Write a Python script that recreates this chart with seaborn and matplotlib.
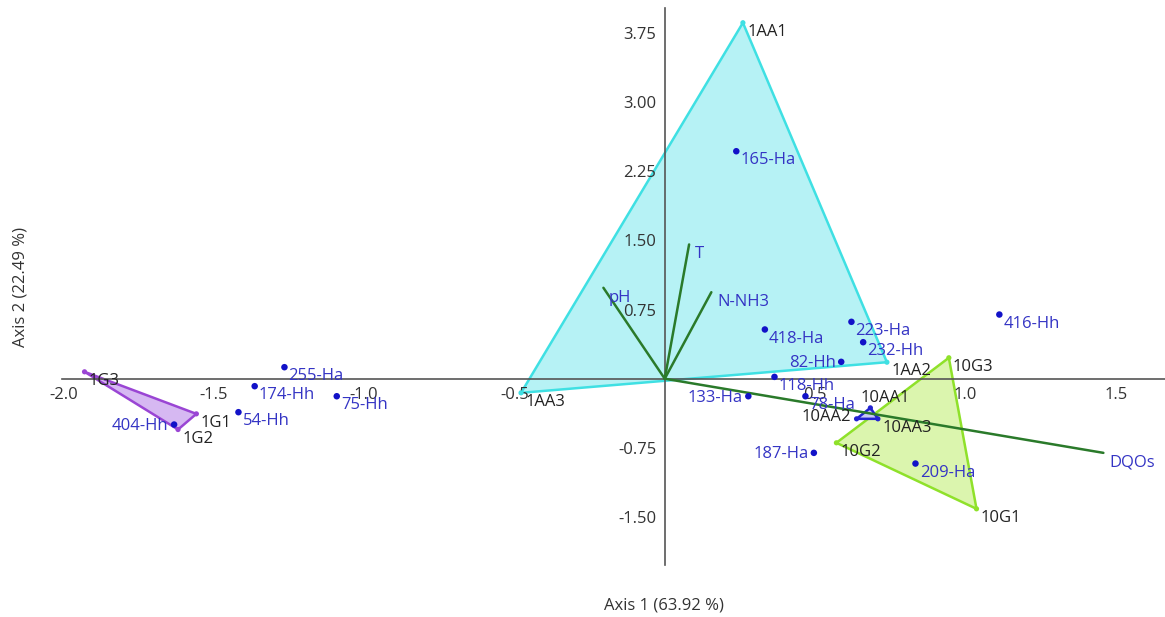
import numpy as np
import pandas as pd
import matplotlib
matplotlib.use("Agg")
import matplotlib.pyplot as plt
import seaborn as sns

# Sample scores (axis 1, axis 2)
sample_names = ["165-Ha", "418-Ha", "223-Ha", "232-Hh", "82-Hh", "118-Hh", "133-Ha",
                "78-Ha", "187-Ha", "209-Ha", "416-Hh", "255-Ha", "174-Hh", "54-Hh",
                "75-Hh", "404-Hh"]
sample_x = [0.238, 0.333, 0.621, 0.660, 0.587, 0.365, 0.278, 0.468, 0.496, 0.834,
            1.113, -1.265, -1.364, -1.418, -1.091, -1.632]
sample_y = [2.467, 0.534, 0.617, 0.396, 0.183, 0.020, -0.190, -0.190, -0.804, -0.920,
            0.696, 0.125, -0.081, -0.363, -0.190, -0.497]
# labels written to the left of their point
left_labels = ["187-Ha", "404-Hh", "133-Ha", "82-Hh"]

# Group hull vertices
grp_aa_names = ["1AA1", "1AA2", "1AA3"]
grp_aa_x = [0.260, 0.739, -0.478]
grp_aa_y = [3.860, 0.179, -0.153]

grp_g_names = ["1G1", "1G2", "1G3"]
grp_g_x = [-1.558, -1.619, -1.930]
grp_g_y = [-0.381, -0.551, 0.075]

grp_10g_names = ["10G1", "10G2", "10G3"]
grp_10g_x = [1.037, 0.571, 0.945]
grp_10g_y = [-1.411, -0.695, 0.227]

grp_10aa_names = ["10AA1", "10AA2", "10AA3"]
grp_10aa_x = [0.684, 0.638, 0.709]
grp_10aa_y = [-0.316, -0.435, -0.435]

# Environmental variable vectors
var_names = ["T", "pH", "N-NH3", "DQOs"]
var_x = [0.081, -0.204, 0.155, 1.459]
var_y = [1.456, 0.986, 0.938, -0.804]

x_ticks = [-2.0, -1.5, -1.0, -0.5, 0.5, 1.0, 1.5]
y_ticks = [-1.50, -0.75, 0.75, 1.50, 2.25, 3.00, 3.75]

sns.set_theme(style="white")
plt.rcParams["font.family"] = ["Open Sans", "DejaVu Sans"]

fig = plt.figure(figsize=(11.65, 6.17), dpi=100)
ax = fig.add_axes([0.0532, 0.0843, 0.9468, 0.9027])
ax.set_xlim(-2.005, 1.664)
ax.set_ylim(-2.02, 4.02)
ax.set_axisbelow(False)

label_blue = "#3434c4"
point_blue = "#1212c8"
dark = "#222222"
fs = 12

groups = [
    (grp_aa_names, grp_aa_x, grp_aa_y, "#b6f2f5", "#3fe0e3"),
    (grp_g_names, grp_g_x, grp_g_y, "#d6b8f2", "#9a45d4"),
    (grp_10g_names, grp_10g_x, grp_10g_y, "#dbf5ae", "#8fe12a"),
    (grp_10aa_names, grp_10aa_x, grp_10aa_y, "#c8c8f5", "#2222d0"),
]
for names, gx, gy, fc, ec in groups:
    ax.fill(gx, gy, facecolor=fc, edgecolor=ec, linewidth=1.8, zorder=1)
    sns.scatterplot(x=gx, y=gy, color=ec, s=14, edgecolor="none", ax=ax, zorder=3)

# Axes through the origin
for side in ["top", "right"]:
    ax.spines[side].set_visible(False)
ax.spines["left"].set_position("zero")
ax.spines["bottom"].set_position("zero")
for side in ["left", "bottom"]:
    ax.spines[side].set_color("#555555")
    ax.spines[side].set_linewidth(1.2)
    ax.spines[side].set_zorder(2)
ax.set_xticks(x_ticks)
ax.set_xticklabels([f"{v:.1f}" for v in x_ticks])
ax.set_yticks(y_ticks)
ax.set_yticklabels([f"{v:.2f}" for v in y_ticks])
ax.tick_params(axis="both", direction="out", length=4, width=1, color="#555555",
               labelsize=fs, labelcolor="#333333", pad=2)
ax.grid(False)

# Variable vectors
for vx, vy, vn in zip(var_x, var_y, var_names):
    sns.lineplot(x=[0, vx], y=[vy * 0, vy], color="#2a7a2a", linewidth=1.8,
                 ax=ax, zorder=4, sort=False, estimator=None)
    ax.annotate(vn, (vx, vy), xytext=(4, -7), textcoords="offset points",
                ha="left", va="center", color=label_blue, fontsize=fs, zorder=6)

# Sample points
df = pd.DataFrame({"x": sample_x, "y": sample_y, "name": sample_names})
sns.scatterplot(data=df, x="x", y="y", color=point_blue, s=22, edgecolor="none",
                ax=ax, zorder=5)
for sx, sy, sn in zip(sample_x, sample_y, sample_names):
    if sn in left_labels:
        ax.annotate(sn, (sx, sy), xytext=(-4, -1), textcoords="offset points",
                    ha="right", va="center", color=label_blue, fontsize=fs, zorder=6)
    else:
        ax.annotate(sn, (sx, sy), xytext=(3, -6.5), textcoords="offset points",
                    ha="left", va="center", color=label_blue, fontsize=fs, zorder=6)

# Group vertex labels
label_offsets = {"10AA1": (-7, 7, "left"), "10AA2": (-4, 1, "right")}
for names, gx, gy, fc, ec in groups:
    for gxx, gyy, gn in zip(gx, gy, names):
        dx, dy, ha = label_offsets.get(gn, (3, -6.5, "left"))
        ax.annotate(gn, (gxx, gyy), xytext=(dx, dy), textcoords="offset points",
                    ha=ha, va="center", color=dark, fontsize=fs, zorder=6)

ax.set_xlabel("")
ax.set_ylabel("")
fig.text(0.570, 0.019, "Axis 1 (63.92 %)", ha="center", va="center",
         fontsize=fs, color="#333333")
fig.text(0.018, 0.535, "Axis 2 (22.49 %)", ha="center", va="center",
         rotation=90, fontsize=fs, color="#333333")

fig.savefig("out.png", dpi=100)
